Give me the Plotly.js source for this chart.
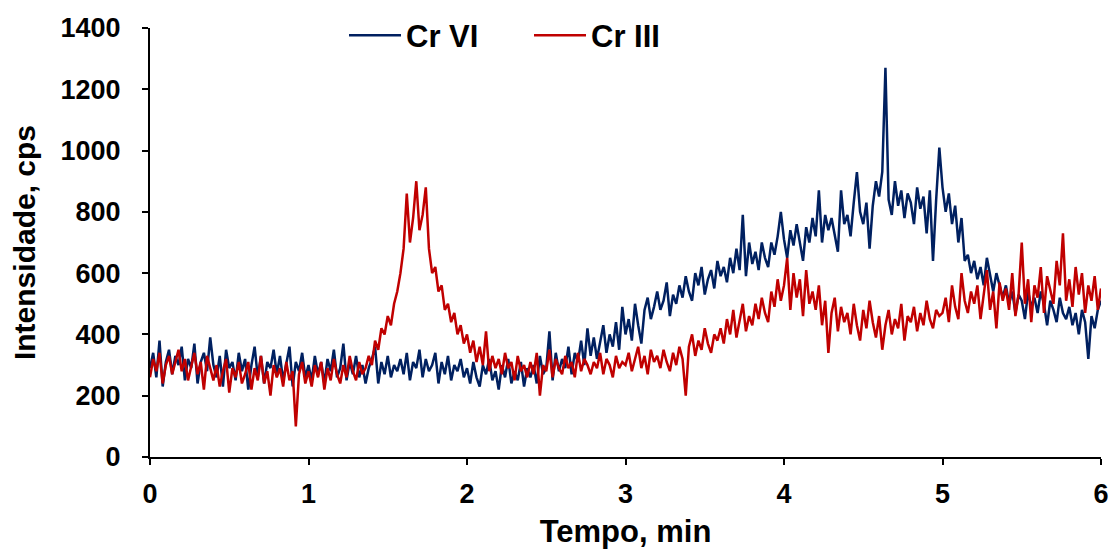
<!DOCTYPE html>
<html>
<head>
<meta charset="utf-8">
<script src="https://cdn.plot.ly/plotly-3.0.1.min.js"></script>
<style>html,body{margin:0;padding:0;background:#fff;}#chart{width:1110px;height:549px;}</style>
</head>
<body>
<div id="chart"></div>
<script>
const time = [
0.00,0.02,0.04,0.06,0.08,0.10,0.12,0.14,0.16,0.18,
0.20,0.22,0.24,0.26,0.28,0.30,0.32,0.34,0.36,0.38,
0.40,0.42,0.44,0.46,0.48,0.50,0.52,0.54,0.56,0.58,
0.60,0.62,0.64,0.66,0.68,0.70,0.72,0.74,0.76,0.78,
0.80,0.82,0.84,0.86,0.88,0.90,0.92,0.94,0.96,0.98,
1.00,1.02,1.04,1.06,1.08,1.10,1.12,1.14,1.16,1.18,
1.20,1.22,1.24,1.26,1.28,1.30,1.32,1.34,1.36,1.38,
1.40,1.42,1.44,1.46,1.48,1.50,1.52,1.54,1.56,1.58,
1.60,1.62,1.64,1.66,1.68,1.70,1.72,1.74,1.76,1.78,
1.80,1.82,1.84,1.86,1.88,1.90,1.92,1.94,1.96,1.98,
2.00,2.02,2.04,2.06,2.08,2.10,2.12,2.14,2.16,2.18,
2.20,2.22,2.24,2.26,2.28,2.30,2.32,2.34,2.36,2.38,
2.40,2.42,2.44,2.46,2.48,2.50,2.52,2.54,2.56,2.58,
2.60,2.62,2.64,2.66,2.68,2.70,2.72,2.74,2.76,2.78,
2.80,2.82,2.84,2.86,2.88,2.90,2.92,2.94,2.96,2.98,
3.00,3.02,3.04,3.06,3.08,3.10,3.12,3.14,3.16,3.18,
3.20,3.22,3.24,3.26,3.28,3.30,3.32,3.34,3.36,3.38,
3.40,3.42,3.44,3.46,3.48,3.50,3.52,3.54,3.56,3.58,
3.60,3.62,3.64,3.66,3.68,3.70,3.72,3.74,3.76,3.78,
3.80,3.82,3.84,3.86,3.88,3.90,3.92,3.94,3.96,3.98,
4.00,4.02,4.04,4.06,4.08,4.10,4.12,4.14,4.16,4.18,
4.20,4.22,4.24,4.26,4.28,4.30,4.32,4.34,4.36,4.38,
4.40,4.42,4.44,4.46,4.48,4.50,4.52,4.54,4.56,4.58,
4.60,4.62,4.64,4.66,4.68,4.70,4.72,4.74,4.76,4.78,
4.80,4.82,4.84,4.86,4.88,4.90,4.92,4.94,4.96,4.98,
5.00,5.02,5.04,5.06,5.08,5.10,5.12,5.14,5.16,5.18,
5.20,5.22,5.24,5.26,5.28,5.30,5.32,5.34,5.36,5.38,
5.40,5.42,5.44,5.46,5.48,5.50,5.52,5.54,5.56,5.58,
5.60,5.62,5.64,5.66,5.68,5.70,5.72,5.74,5.76,5.78,
5.80,5.82,5.84,5.86,5.88,5.90,5.92,5.94,5.96,5.98,
6.00];

const crVI = [
290,340,260,380,230,310,350,270,330,300,
360,250,320,290,370,240,310,340,280,390,
300,260,330,230,350,290,310,250,340,280,
320,220,300,360,260,330,240,310,290,350,
270,330,250,300,360,230,310,280,340,260,
300,250,330,270,310,240,320,280,350,260,
290,370,250,310,270,330,260,300,240,290,
320,360,240,310,270,330,260,300,280,320,
270,340,250,310,290,350,260,320,280,300,
340,240,310,270,330,250,300,280,320,260,
290,240,310,260,230,300,270,320,250,280,
220,300,260,320,240,280,250,310,230,290,
260,300,240,330,270,290,410,250,340,280,
320,290,360,270,340,310,380,300,420,330,
390,320,370,430,340,400,360,440,350,490,
400,450,380,500,430,370,480,520,450,490,
540,480,510,570,460,530,500,560,520,590,
540,510,600,560,620,530,580,610,550,640,
590,620,570,650,600,680,610,790,590,700,
630,670,610,700,650,620,700,660,720,800,
710,650,740,690,760,700,640,750,700,780,
720,870,700,790,740,780,720,670,870,760,
790,720,830,930,800,760,830,680,820,900,
850,930,1270,840,790,900,820,870,780,860,
830,760,880,810,850,730,870,640,840,1010,
880,800,860,760,820,700,780,640,660,600,
640,580,620,560,650,590,540,600,560,520,
560,500,540,470,530,510,450,540,490,520,
470,540,500,430,510,480,440,520,470,450,
490,430,470,400,480,440,320,460,420,480,
510];

const crIII = [
260,320,280,340,240,300,330,270,310,350,
280,320,250,300,340,270,310,220,330,290,
250,300,230,280,320,210,290,260,310,240,
270,310,220,290,250,330,240,280,200,300,
260,290,230,310,250,280,100,270,310,240,
280,230,300,260,310,220,290,250,320,270,
240,300,260,330,280,250,310,270,290,330,
300,380,350,420,400,460,430,500,540,600,
680,860,700,780,900,740,790,880,680,600,
620,540,560,480,500,440,470,400,430,370,
400,340,380,310,360,300,410,280,330,290,
320,270,340,290,310,250,330,280,300,260,
310,270,340,200,300,280,350,260,320,290,
270,330,290,310,260,340,280,320,300,270,
310,290,340,270,320,300,260,330,290,310,
300,340,280,320,360,290,330,270,350,310,
330,290,350,310,280,340,300,360,320,200,
360,400,330,380,350,420,370,340,400,380,
420,370,450,400,480,390,440,500,410,460,
430,500,450,520,470,440,540,490,580,510,
560,650,480,600,520,580,460,610,500,540,
480,560,430,510,340,470,520,410,490,440,
470,400,500,430,380,480,420,510,440,390,
460,350,430,480,400,450,420,500,380,460,
440,490,410,470,430,510,450,420,480,460,
470,520,440,560,490,450,600,510,470,540,
500,560,450,530,610,480,540,420,570,510,
550,480,600,460,530,700,500,580,440,560,
520,620,470,590,540,500,640,560,730,510,
580,490,620,530,600,470,560,510,590,480,
550];

const seriesNames = ['Cr VI', 'Cr III'];
const xTicks = [0, 1, 2, 3, 4, 5, 6];
const yTicks = [0, 200, 400, 600, 800, 1000, 1200, 1400];

const FONT = 'Liberation Sans, Arial, sans-serif';

const traces = [
  {x: time, y: crVI, name: seriesNames[0], type: 'scatter', mode: 'lines',
   line: {color: '#002060', width: 2.5}},
  {x: time, y: crIII, name: seriesNames[1], type: 'scatter', mode: 'lines',
   line: {color: '#C00000', width: 2.5}}
];

const axisCommon = {
  showgrid: false, zeroline: false, showline: true, linecolor: '#000', linewidth: 2,
  ticks: 'outside', ticklen: 6, tickwidth: 2, tickcolor: '#000',
  tickfont: {family: FONT, size: 27, color: '#000', weight: 'bold'},
  ticklabeloverflow: 'allow',
  fixedrange: true
};

const layout = {
  width: 1110, height: 549,
  margin: {l: 150, r: 9, t: 28, b: 92},
  paper_bgcolor: '#fff', plot_bgcolor: '#fff',
  font: {family: FONT, color: '#000'},
  showlegend: true,
  legend: {
    orientation: 'h', x: 0.204, xanchor: 'left', y: 0.982, yanchor: 'middle',
    font: {family: FONT, size: 31, color: '#000', weight: 'bold'},
    bgcolor: 'rgba(0,0,0,0)', itemwidth: 52,
    entrywidth: 118, entrywidthmode: 'pixels'
  },
  xaxis: Object.assign({}, axisCommon, {
    range: [0, 6], tickvals: xTicks, ticktext: xTicks.map(String),
    ticklabelstandoff: 6,
    title: {text: 'Tempo, min', font: {family: FONT, size: 31, color: '#000', weight: 'bold'}, standoff: 16}
  }),
  yaxis: Object.assign({}, axisCommon, {
    range: [0, 1400], tickvals: yTicks, ticktext: yTicks.map(String),
    ticklabelstandoff: 16,
    title: {text: 'Intensidade, cps', font: {family: FONT, size: 30, color: '#000', weight: 'bold'}, standoff: 16}
  })
};

Plotly.newPlot('chart', traces, layout, {displayModeBar: false, staticPlot: true});
</script>
</body>
</html>
